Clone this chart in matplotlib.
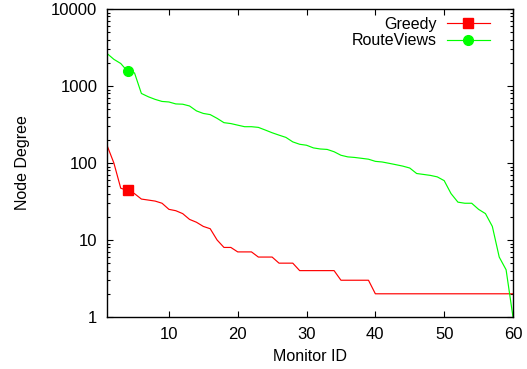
import numpy as np
import matplotlib
matplotlib.use("Agg")
import matplotlib.pyplot as plt
from matplotlib.lines import Line2D
from matplotlib.ticker import FixedLocator, LogLocator, NullFormatter

plt.rcParams['font.family'] = ['Liberation Sans', 'DejaVu Sans']
plt.rcParams['font.size'] = 11.5

# monitor ids 1..60
monitor_id = list(range(1, 61))

greedy = [170, 100, 47, 44, 40, 34, 33, 32, 30, 25,
          24, 22, 18.5, 17, 15, 14, 10, 8, 8, 7,
          7, 7, 6, 6, 6, 5, 5, 5, 4, 4,
          4, 4, 4, 4, 3, 3, 3, 3, 3, 2,
          2, 2, 2, 2, 2, 2, 2, 2, 2, 2,
          2, 2, 2, 2, 2, 2, 2, 2, 2, 2]

routeviews = [2650, 2220, 1960, 1550, 1480, 800, 725, 670, 630, 620,
              585, 580, 550, 475, 440, 425, 380, 334, 325, 310,
              296, 296, 290, 268, 247, 230, 215, 188, 175, 170,
              157, 152, 150, 140, 126, 120, 118, 115, 112, 105,
              103, 99, 95, 91, 86, 73, 71, 69, 66, 59,
              40, 31, 30, 30, 25, 22, 15, 6, 4.1, 1]

marker_idx = 3  # only one point gets a symbol

red = '#ff0000'
green = '#00ff00'

fig = plt.figure(figsize=(5.27, 3.69), dpi=100)
ax = fig.add_axes([0.203, 0.141, 0.7704, 0.8346])

ax.plot(monitor_id, greedy, color=red, lw=0.85)
ax.plot(monitor_id, routeviews, color=green, lw=0.85)
ax.plot(monitor_id[marker_idx], greedy[marker_idx], 's', color=red, ms=7)
ax.plot(monitor_id[marker_idx], routeviews[marker_idx], 'o', color=green, ms=7)

ax.set_yscale('log')
ax.set_xlim(1, 60)
ax.set_ylim(1, 10000)

ax.xaxis.set_major_locator(FixedLocator([10, 20, 30, 40, 50, 60]))
ax.yaxis.set_major_locator(FixedLocator([1, 10, 100, 1000, 10000]))
ax.set_yticklabels(['1', '10', '100', '1000', '10000'])
ax.yaxis.set_minor_locator(LogLocator(base=10, subs=np.arange(2, 10)))
ax.yaxis.set_minor_formatter(NullFormatter())

ax.tick_params(which='both', direction='in', top=True, right=True, width=0.8)
ax.tick_params(which='major', length=4, pad=7, labelsize=12)
ax.tick_params(which='minor', length=2)
for s in ax.spines.values():
    s.set_linewidth(1.0)

ax.set_xlabel('Monitor ID', labelpad=5)
ax.set_ylabel('Node Degree', labelpad=15)

handles = [
    Line2D([], [], color=red, lw=0.85, marker='s', ms=7),
    Line2D([], [], color=green, lw=0.85, marker='o', ms=7),
]
ax.legend(handles, ['Greedy', 'RouteViews'], loc='upper right',
          bbox_to_anchor=(0.955, 0.99), frameon=False, markerfirst=False,
          numpoints=1, handlelength=2.7, handletextpad=0.6,
          labelspacing=0.1, alignment='right', borderaxespad=0, borderpad=0.3)

fig.savefig('out.png', dpi=100)
